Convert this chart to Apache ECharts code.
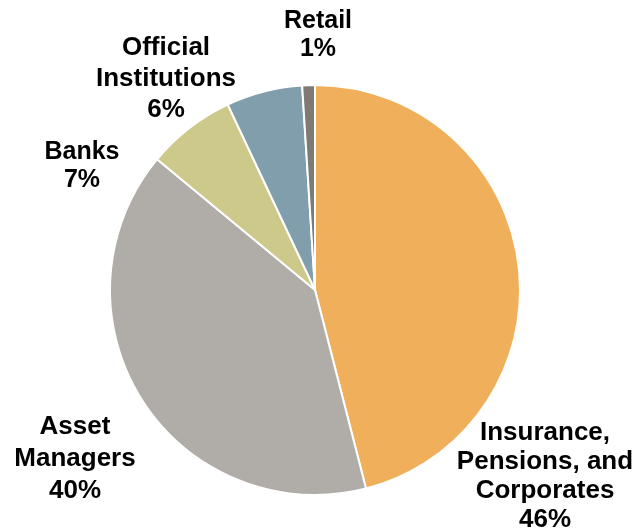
<!DOCTYPE html>
<html>
<head>
<meta charset="utf-8">
<script src="https://cdn.jsdelivr.net/npm/echarts@6/dist/echarts.min.js"></script>
<style>
  html, body { margin: 0; padding: 0; background: #fff; }
  #chart { width: 639px; height: 531px; }
</style>
</head>
<body>
<div id="chart"></div>
<script>
// Investor categories and their shares (percent)
const categories = ['Insurance,\nPensions, and\nCorporates', 'Asset\nManagers', 'Banks', 'Official\nInstitutions', 'Retail'];
const shares = [46, 40, 7, 6, 1];
const colors = ['#EFAF5B', '#B0ADA8', '#CDC98A', '#809EAC', '#7D7B74'];

// Pie geometry and label block placement relative to the pie centre
const pieCenter = [315, 290];
const pieRadius = 205;
const labelOffsets = [[230, 186], [-240, 169], [-233, -124], [-149, -211], [3, -255]];
const labelFontSizes = [26, 26, 25, 26, 25];
const labelLineHeights = [29, 32, 28, 31, 28];

const chart = echarts.init(document.getElementById('chart'), null, { renderer: 'canvas' });
chart.setOption({
  backgroundColor: '#ffffff',
  animation: false,
  series: [{
    type: 'pie',
    center: pieCenter,
    radius: pieRadius,
    startAngle: 90,
    clockwise: true,
    avoidLabelOverlap: false,
    data: categories.map((name, i) => ({
      name: name,
      value: shares[i],
      itemStyle: { color: colors[i] },
      label: { fontSize: labelFontSizes[i], lineHeight: labelLineHeights[i] }
    })),
    itemStyle: { borderColor: '#ffffff', borderWidth: 2 },
    label: {
      show: true,
      position: 'outside',
      formatter: p => p.name + '\n' + p.value + '%',
      fontFamily: 'Liberation Sans, Arial, sans-serif',
      fontWeight: 'bold',
      color: '#000000',
      align: 'center'
    },
    labelLine: { show: false },
    labelLayout: params => {
      const o = labelOffsets[params.dataIndex];
      return {
        x: pieCenter[0] + o[0],
        y: pieCenter[1] + o[1],
        align: 'center',
        verticalAlign: 'middle'
      };
    }
  }]
});
</script>
</body>
</html>
